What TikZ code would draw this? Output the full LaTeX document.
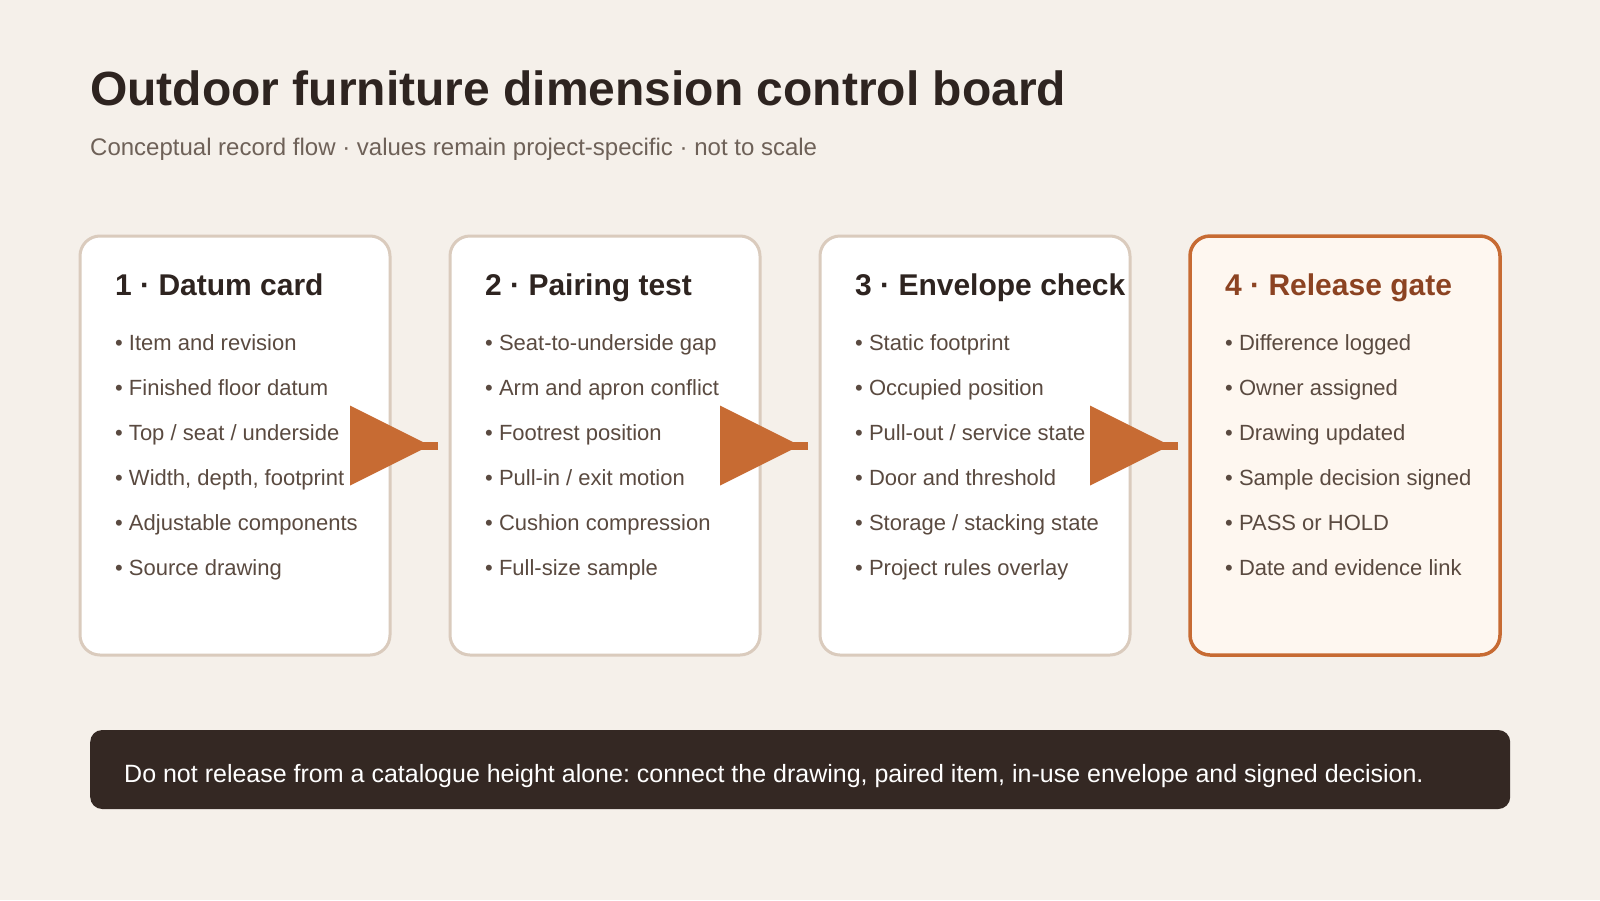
\documentclass[tikz,border=0pt]{standalone}
\usepackage{fontspec}
\setmainfont{Liberation Sans}
\usetikzlibrary{arrows.meta}
\frenchspacing

\definecolor{paper}{HTML}{F5F0EA}
\definecolor{ink}{HTML}{2E2420}
\definecolor{muted}{HTML}{6E6158}
\definecolor{itemtext}{HTML}{5A4A40}
\definecolor{cardline}{HTML}{DACBBD}
\definecolor{accent}{HTML}{C76B33}
\definecolor{gatefill}{HTML}{FEF7F0}
\definecolor{gatehead}{HTML}{8C4322}
\definecolor{notebg}{HTML}{342823}

\begin{document}
\begin{tikzpicture}[x=1pt,y=-1pt,
  card/.style={rectangle,rounded corners=20pt,minimum width=310pt,minimum height=419pt,inner sep=0pt,outer sep=0pt,fill=white,draw=cardline,line width=3pt},
  gate/.style={card,fill=gatefill,draw=accent,line width=3.5pt},
  head/.style={anchor=base west,inner sep=0pt,font=\fontsize{30}{36}\selectfont\bfseries,text=ink},
  item/.style={anchor=base west,inner sep=0pt,font=\fontsize{22}{26}\selectfont,text=itemtext},
  shaft/.style={draw=accent,line width=8pt},
  flow/.style={shaft,-{Triangle[length=80pt,width=80pt,line width=0pt]},shorten >=8pt},
  banner/.style={rectangle,rounded corners=12pt,minimum width=1420pt,minimum height=79pt,inner sep=0pt,fill=notebg}]

  \fill[paper] (0,0) rectangle (1600,900) ;

  \node[anchor=base west,inner sep=0pt,font=\fontsize{48}{58}\selectfont\bfseries,text=ink] at (90,105) (title) {Outdoor furniture dimension control board} ;
  \node[anchor=base west,inner sep=0pt,font=\fontsize{24}{29}\selectfont,text=muted] at (90,155) (subtitle) {Conceptual record flow · values remain project-specific · not to scale} ;

  \node[card] at ( 235,445.5) (datum)    {} ;
  \node[card] at ( 605,445.5) (pairing)  {} ;
  \node[card] at ( 975,445.5) (envelope) {} ;
  \node[gate] at (1345,445.5) (release)  {} ;

  \node[head] at ( 115,295) (datumhd)    {1 · Datum card} ;
  \node[head] at ( 485,295) (pairinghd)  {2 · Pairing test} ;
  \node[head] at ( 855,295) (envelopehd) {3 · Envelope check} ;
  \node[head,text=gatehead] at (1225,295) (releasehd) {4 · Release gate} ;

  \foreach \txt [count=\i from 0] in {Item and revision,Finished floor datum,Top / seat / underside,{Width, depth, footprint},Adjustable components,Source drawing}
    \node[item] at (115,350+45*\i) (datum-\i) {• \txt} ;
  \foreach \txt [count=\i from 0] in {Seat-to-underside gap,Arm and apron conflict,Footrest position,Pull-in / exit motion,Cushion compression,Full-size sample}
    \node[item] at (485,350+45*\i) (pairing-\i) {• \txt} ;
  \foreach \txt [count=\i from 0] in {Static footprint,Occupied position,Pull-out / service state,Door and threshold,Storage / stacking state,Project rules overlay}
    \node[item] at (855,350+45*\i) (envelope-\i) {• \txt} ;
  \foreach \txt [count=\i from 0] in {Difference logged,Owner assigned,Drawing updated,Sample decision signed,PASS or HOLD,Date and evidence link}
    \node[item] at (1225,350+45*\i) (release-\i) {• \txt} ;

  \foreach \a/\b in {datum/pairing,pairing/envelope,envelope/release} {
    \draw[shaft] (\a.east) -- ([xshift=-12pt]\b.west) ;
    \draw[flow]  (\a.east) -- ([xshift=-12pt]\b.west) ;
  }

  \node[banner,anchor=west] at (90,769.5) (note) {} ;
  \node[anchor=base west,inner sep=0pt,font=\fontsize{25}{30}\selectfont,text=white] at (124,782) (notetxt) {Do not release from a catalogue height alone: connect the drawing, paired item, in-use envelope and signed decision.} ;

\end{tikzpicture}
\end{document}
